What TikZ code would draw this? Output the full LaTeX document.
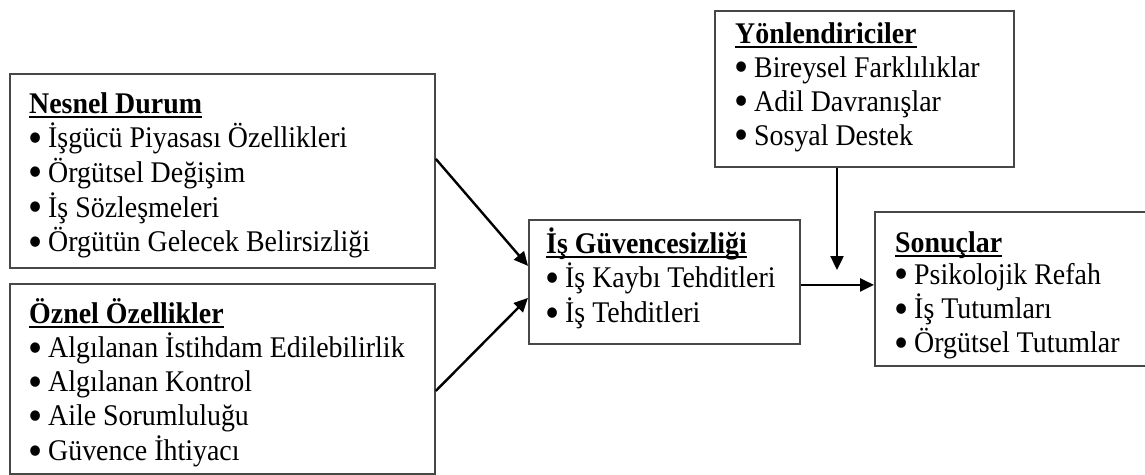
\documentclass[tikz,border=0pt]{standalone}
\usepackage{fontspec}
\setmainfont[FakeStretch=0.93]{Liberation Serif}
\usetikzlibrary{arrows.meta}
\newcommand\boxtitle[1]{\textbf{\setbox0\hbox{#1}\rlap{\rule[-5pt]{\wd0}{2.4pt}}\box0}}
\newcommand\itm{\makebox[19pt][l]{\hspace{-0.5pt}\raisebox{-4.5pt}{\scalebox{1.45}{\textbullet}}}}
\begin{document}
\begin{tikzpicture}[x=1pt,y=-1pt,
  frame/.style={draw=black!72, line width=1.8pt, anchor=north west, inner sep=0pt},
  txt/.style={anchor=base west, inner sep=0pt, font=\fontsize{30}{34}\selectfont},
  arr/.style={line width=2.4pt, -{Triangle[length=14pt,width=13pt]}}]
\useasboundingbox (0,0) rectangle (1145,474);
% boxes
\node[frame, minimum width=425pt, minimum height=194pt] (nesnel) at (9,73) {};
\node[frame, minimum width=425pt, minimum height=190pt] (oznel) at (9,283) {};
\node[frame, minimum width=271pt, minimum height=124pt] (ig) at (528,219) {};
\node[frame, minimum width=299pt, minimum height=156pt] (yon) at (714,10) {};
\node[frame, minimum width=280pt, minimum height=154pt] (son) at (874,211) {};
% texts
\node[txt] (nesnelT) at (29,113) {\begin{tabular}[t]{@{}l@{}}\boxtitle{Nesnel Durum}\\ \itm İşgücü Piyasası Özellikleri\\ \itm Örgütsel Değişim\\ \itm İş Sözleşmeleri\\ \itm Örgütün Gelecek Belirsizliği\end{tabular}};
\node[txt] (oznelT) at (29,323) {\begin{tabular}[t]{@{}l@{}}\boxtitle{Öznel Özellikler}\\ \itm Algılanan İstihdam Edilebilirlik\\ \itm Algılanan Kontrol\\ \itm Aile Sorumluluğu\\ \itm Güvence İhtiyacı\end{tabular}};
\node[txt] (igT) at (546,253) {\begin{tabular}[t]{@{}l@{}}\boxtitle{İş Güvencesizliği}\\ \itm İş Kaybı Tehditleri\\ \itm İş Tehditleri\end{tabular}};
\node[txt] (yonT) at (735,43) {\begin{tabular}[t]{@{}l@{}}\boxtitle{Yönlendiriciler}\\ \itm Bireysel Farklılıklar\\ \itm Adil Davranışlar\\ \itm Sosyal Destek\end{tabular}};
\node[txt] (sonT) at (895,252) {\renewcommand\arraystretch{0.95}\begin{tabular}[t]{@{}l@{}}\boxtitle{Sonuçlar}\\ \itm Psikolojik Refah\\ \itm İş Tutumları\\ \itm Örgütsel Tutumlar\end{tabular}};
% connectors
\coordinate (mid) at (837,270);
\draw[arr] ([yshift=12pt]nesnel.east) -- ([yshift=16pt]ig.west);
\draw[arr] ([yshift=-12pt]oznel.east) -- ([yshift=-16pt]ig.west);
\draw[arr] (yon.south -| mid) -- (mid);
\draw[arr] ([yshift=-3pt]ig.east) -- ([yshift=-3pt]ig.east -| son.west);
\end{tikzpicture}
\end{document}
